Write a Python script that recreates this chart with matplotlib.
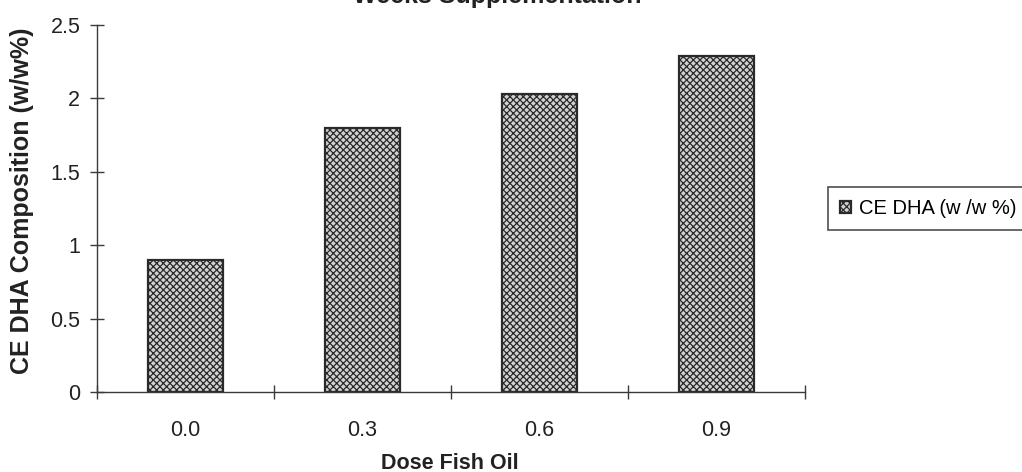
import matplotlib
matplotlib.use("Agg")
import matplotlib.pyplot as plt
import numpy as np

# Data
doses = ["0.0", "0.3", "0.6", "0.9"]
ce_dha = [0.90, 1.80, 2.03, 2.29]
series_label = "CE DHA (w /w %)"
title_text = "Weeks Supplementation"
xlabel_text = "Dose Fish Oil"
ylabel_text = "CE DHA Composition (w/w%)"
yticks = [0, 0.5, 1, 1.5, 2, 2.5]
ytick_labels = ["0", "0.5", "1", "1.5", "2", "2.5"]

plt.rcParams["font.family"] = ["Liberation Sans", "DejaVu Sans"]
plt.rcParams["hatch.color"] = "#606060"
plt.rcParams["hatch.linewidth"] = 0.9

W, H = 1022, 472
fig = plt.figure(figsize=(W / 100, H / 100), dpi=100)
fig.patch.set_facecolor("white")

left, right, top, bottom = 97, 805, 25, 392
ax = fig.add_axes([left / W, 1 - bottom / H, (right - left) / W, (bottom - top) / H])

x = np.arange(len(doses))
bars = ax.bar(x, ce_dha, width=0.42, facecolor="#d2d2d2", edgecolor="#2a2a2a",
              linewidth=1.6, hatch="xxxxx", label=series_label)

ax.set_xlim(-0.5, len(doses) - 0.5)
ax.set_ylim(0, 2.5)
ax.set_yticks(yticks)
ax.set_yticklabels(ytick_labels)
ax.set_xticks(x)
ax.set_xticklabels(doses)
ax.set_xticks(np.arange(-0.5, len(doses), 1.0), minor=True)

for s in ["top", "right"]:
    ax.spines[s].set_visible(False)
for s in ["left", "bottom"]:
    ax.spines[s].set_color("#3a3a3a")
    ax.spines[s].set_linewidth(1.0)

ax.tick_params(axis="y", which="major", direction="inout", length=10, width=1.0,
               color="#3a3a3a", labelsize=15.5, pad=7, labelcolor="#222222")
ax.tick_params(axis="x", which="major", length=0, labelsize=15.5, pad=20,
               labelcolor="#222222")
ax.tick_params(axis="x", which="minor", direction="inout", length=10, width=1.0,
               color="#3a3a3a")

# Title (cut off at top of the figure, as in the source)
fig.text(497 / W, 1 - 3 / H, title_text, ha="center", va="baseline",
         fontsize=18, fontweight="bold", color="#222222")

# Axis labels
fig.text(22 / W, 1 - 201 / H, ylabel_text, rotation=90, ha="center", va="center",
         fontsize=18, fontweight="bold", color="#222222")
fig.text(450 / W, 1 - 469 / H, xlabel_text, ha="center", va="baseline",
         fontsize=15.5, fontweight="bold", color="#222222")

# Legend
leg = fig.legend(handles=[bars], labels=[series_label], loc="upper left",
                 bbox_to_anchor=(828 / W, 1 - 187 / H), bbox_transform=fig.transFigure,
                 borderaxespad=0, fontsize=14.5, frameon=True, fancybox=False,
                 handlelength=0.55, handleheight=0.55, handletextpad=0.4,
                 borderpad=0.6)
leg.get_frame().set_edgecolor("#222222")
leg.get_frame().set_linewidth(1.2)

fig.savefig("out.png", dpi=100, facecolor="white")
